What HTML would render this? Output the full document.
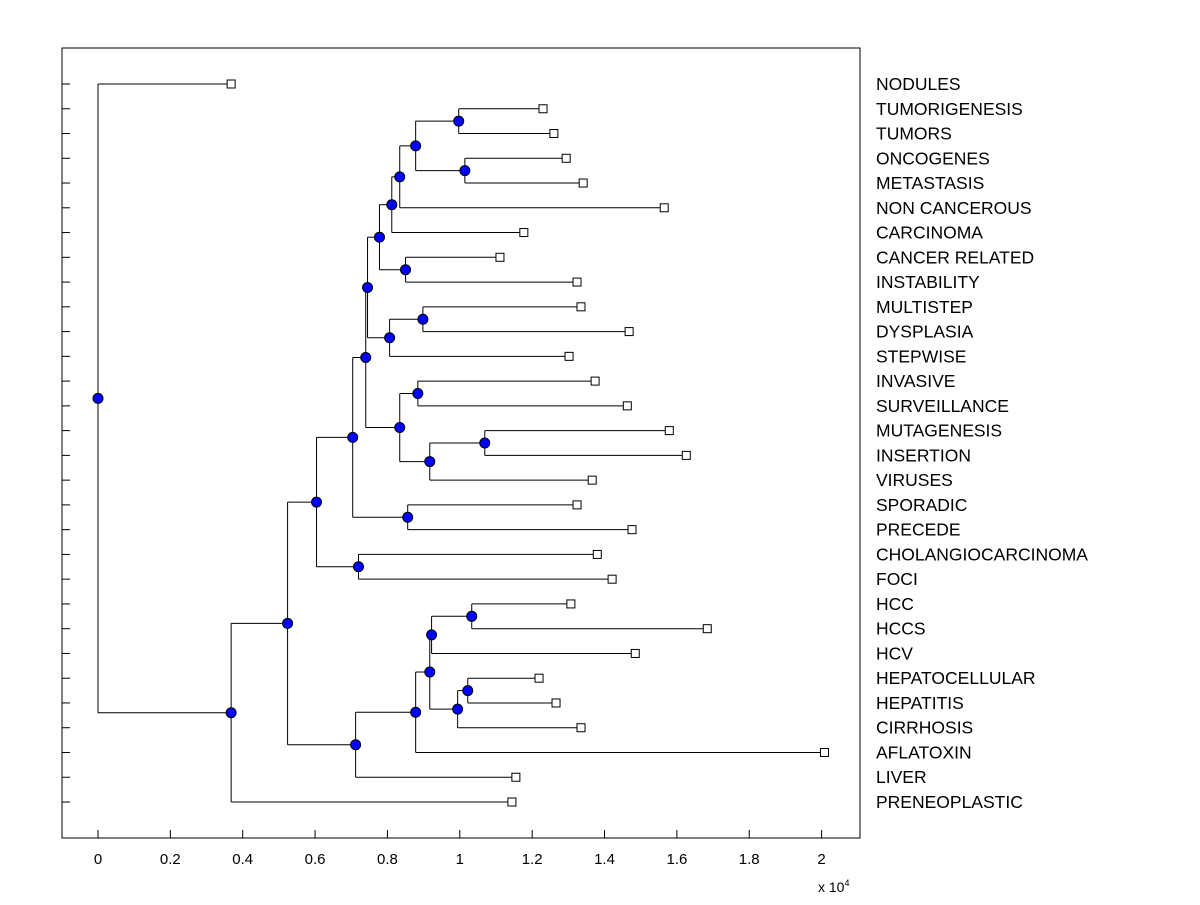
<!DOCTYPE html>
<html><head><meta charset="utf-8"><style>
html,body{margin:0;padding:0;background:#fff;}
svg text{font-family:"Liberation Sans",Arial,sans-serif;fill:#000;}
</style></head><body>
<svg id="chart" width="1200" height="900" xmlns="http://www.w3.org/2000/svg">
<rect x="62" y="48" width="798" height="790" fill="#fff" stroke="#000" stroke-width="1"/>
<g id="g"></g>
</svg>
<script>
const labels = ["NODULES","TUMORIGENESIS","TUMORS","ONCOGENES","METASTASIS","NON CANCEROUS","CARCINOMA","CANCER RELATED","INSTABILITY","MULTISTEP","DYSPLASIA","STEPWISE","INVASIVE","SURVEILLANCE","MUTAGENESIS","INSERTION","VIRUSES","SPORADIC","PRECEDE","CHOLANGIOCARCINOMA","FOCI","HCC","HCCS","HCV","HEPATOCELLULAR","HEPATITIS","CIRRHOSIS","AFLATOXIN","LIVER","PRENEOPLASTIC"];
const leafValues = [0.368,1.230,1.260,1.294,1.341,1.565,1.177,1.111,1.324,1.335,1.468,1.302,1.374,1.463,1.579,1.626,1.366,1.324,1.476,1.380,1.421,1.307,1.684,1.485,1.219,1.266,1.335,2.008,1.155,1.144];
// internal nodes: [name, value, childA, childB]; children are leaf indices (numbers) or node names
const nodes = [
 ["AA",0.997,1,2],["BB",1.014,3,4],["Z",0.878,"AA","BB"],["Y",0.834,"Z",5],["W",0.812,"Y",6],
 ["X",0.850,7,8],["T",0.778,"W","X"],["V",0.898,9,10],["U",0.806,"V",11],["O",0.745,"T","U"],
 ["Q",0.884,12,13],["S",1.069,14,15],["R",0.917,"S",16],["P",0.834,"Q","R"],["M",0.740,"O","P"],
 ["N",0.856,17,18],["K",0.704,"M","N"],["L",0.720,19,20],["C",0.604,"K","L"],
 ["I",1.033,21,22],["G",0.922,"I",23],["J",1.022,24,25],["H",0.994,"J",26],["F",0.917,"G","H"],
 ["E",0.878,"F",27],["D",0.712,"E",28],["B",0.524,"C","D"],["A",0.368,"B",29],["ROOT",0.0,0,"A"]
];
const xTicks = [0,0.2,0.4,0.6,0.8,1,1.2,1.4,1.6,1.8,2];

const NS="http://www.w3.org/2000/svg";
const g=document.getElementById('g');
const X=v=>98+v*361.8;
const rowY=i=>84+i*(802-84)/29;
function el(t,a){const e=document.createElementNS(NS,t);for(const k in a)e.setAttribute(k,a[k]);g.appendChild(e);return e;}
xTicks.forEach(t=>{
 const l=el('line',{x1:X(t),x2:X(t),y1:838,y2:830,stroke:'#000'});
 
 
 const tx=el('text',{x:X(t),y:864,'font-size':15,'text-anchor':'middle'});
 tx.textContent=String(t);
 
 
});
labels.forEach((lb,i)=>{
 const l=el('line',{x1:62,x2:70,y1:rowY(i),y2:rowY(i),stroke:'#000'});
 
 
 const t=el('text',{x:876,y:rowY(i)+6,'font-size':17.5});
 t.textContent=lb;
 
 
});
const pos={};
labels.forEach((lb,i)=>{pos[i]={x:X(leafValues[i]),y:rowY(i)};});
nodes.forEach(n=>{const a=pos[n[2]],b=pos[n[3]];pos[n[0]]={x:X(n[1]),y:(a.y+b.y)/2};});
nodes.forEach(n=>{
 const p=pos[n[0]],a=pos[n[2]],b=pos[n[3]];
 const v=el('line',{x1:p.x,x2:p.x,y1:a.y,y2:b.y,stroke:'#000'});
 
 
 [a,b].forEach(c=>{
  const h=el('line',{x1:p.x,x2:c.x,y1:c.y,y2:c.y,stroke:'#000'});
  
  
 });
});
labels.forEach((lb,i)=>{
 const p=pos[i];
 const r=el('rect',{x:p.x-4,y:p.y-4,width:8,height:8,fill:'#fff',stroke:'#000'});
 
 
});
nodes.forEach(n=>{
 const p=pos[n[0]];
 const c=el('circle',{cx:p.x,cy:p.y,r:5,fill:'#0000ff',stroke:'#000'});
 
 
});
const ex=el('text',{x:818,y:892,'font-size':14});
ex.innerHTML='x 10<tspan dy="-6" font-size="9">4</tspan>';


</script>
</body></html>
